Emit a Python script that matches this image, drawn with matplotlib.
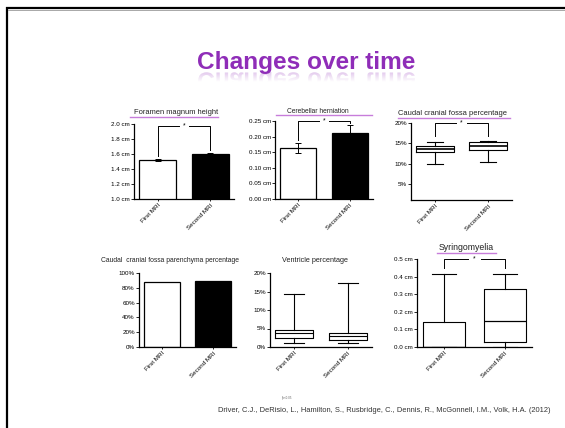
import numpy as np
import matplotlib
matplotlib.use("Agg")
import matplotlib.pyplot as plt
from matplotlib.textpath import TextPath
from matplotlib.font_manager import FontProperties
from matplotlib.patches import PathPatch
from matplotlib.transforms import Affine2D

plt.rcParams['font.family'] = ['Liberation Sans', 'DejaVu Sans']

W, H = 565, 428

groups = ["First MRI", "Second MRI"]

# Foramen magnum height (cm)
fm_mean = [1.52, 1.60]
fm_err = [0.01, 0.01]
fm_ticks = [1.0, 1.2, 1.4, 1.6, 1.8, 2.0]

# Cerebellar herniation (cm)
ch_mean = [0.163, 0.211]
ch_err = [0.017, 0.026]
ch_ticks = [0.00, 0.05, 0.10, 0.15, 0.20, 0.25]

# Caudal cranial fossa percentage (%)
ccf_whislo = [10.0, 10.4]
ccf_q1 = [13.0, 13.4]
ccf_med = [13.6, 14.3]
ccf_q3 = [14.4, 15.25]
ccf_whishi = [15.25, 15.5]
ccf_ticks = [5, 10, 15, 20]

# Caudal cranial fossa parenchyma percentage (%)
par_mean = [88, 89]
par_err = [0.4, 0.4]
par_ticks = [0, 20, 40, 60, 80, 100]

# Ventricle percentage (%)
ven_whislo = [1.0, 1.0]
ven_q1 = [2.3, 1.9]
ven_med = [3.7, 3.0]
ven_q3 = [4.7, 3.9]
ven_whishi = [14.4, 17.4]
ven_ticks = [0, 5, 10, 15, 20]

# Syringomyelia (cm)
syr_whislo = [0.0, 0.0]
syr_q1 = [0.0, 0.027]
syr_med = [0.0, 0.15]
syr_q3 = [0.144, 0.33]
syr_whishi = [0.417, 0.417]
syr_ticks = [0.0, 0.1, 0.2, 0.3, 0.4, 0.5]

PURPLE = '#8f2db8'
LILAC = '#c77ddb'
LW = 0.9
TICK_FS = 4.5

fig = plt.figure(figsize=(W / 100, H / 100), dpi=100)

# full-figure layer in pixel coordinates for slide decorations
bg = fig.add_axes([0, 0, 1, 1], zorder=-1)
bg.axis('off')

bg.plot([7, 7], [7, H], color='black', lw=1.6, solid_capstyle='butt')
bg.plot([6, W], [8, 8], color='black', lw=1.6, solid_capstyle='butt')
bg.plot([8, W], [9.6, 9.6], color='#9a9a9a', lw=0.6)

# slide title with faded reflection
title = "Changes over time"
TITLE_PT = 17.6
TITLE_X, TITLE_BASE = 306.5, 69
fp = FontProperties(family='Liberation Sans', weight='bold')
bg.text(TITLE_X, TITLE_BASE, title, fontproperties=fp, fontsize=TITLE_PT, color=PURPLE,
        ha='center', va='baseline')
tp = TextPath((0, 0), title, size=TITLE_PT * 100 / 72, prop=fp)
ext = tp.get_extents()
tx = TITLE_X - (ext.x0 + ext.x1) / 2
mirror_y = TITLE_BASE + 3.5
refl = Affine2D().translate(tx, mirror_y)
rpatch = PathPatch(refl.transform_path(tp), facecolor='none', edgecolor='none')
bg.add_patch(rpatch)
fade = np.linspace(0, 1, 80)[:, None]
grad = np.zeros((80, 2, 4))
grad[..., :3] = matplotlib.colors.to_rgb(PURPLE)
grad[..., 3] = np.clip(0.26 * (1 - fade / 0.55), 0, 1)
img = bg.imshow(grad, extent=[tx + ext.x0, tx + ext.x1, mirror_y + ext.y1, mirror_y],
                aspect='auto', interpolation='bilinear', zorder=1)
img.set_clip_path(rpatch)
bg.set_xlim(0, W)
bg.set_ylim(H, 0)


def px_axes(x0, y0, x1, y1):
    ax = fig.add_axes([x0 / W, 1 - y1 / H, (x1 - x0) / W, (y1 - y0) / H])
    ax.spines['top'].set_visible(False)
    ax.spines['right'].set_visible(False)
    for s in ('left', 'bottom'):
        ax.spines[s].set_linewidth(LW)
    ax.tick_params(axis='y', length=2, width=0.6, labelsize=TICK_FS, pad=1)
    ax.tick_params(axis='x', length=1.5, width=0.6, labelsize=TICK_FS, pad=1)
    ax.set_xlim(-0.45, 1.45)
    ax.set_xticks([0, 1])
    ax.set_xticklabels(groups, rotation=45, ha='right', rotation_mode='anchor')
    ax.patch.set_alpha(0)
    return ax


def panel_title(x, y, s, size, underline=None, ha='center'):
    bg.text(x, y, s, fontsize=size, ha=ha, va='center', color='#222222')
    if underline:
        bg.plot(underline[:2], [underline[2]] * 2, color=LILAC, lw=1.0)


def bracket(ax, y, ylo_left, ylo_right, gap=0.1):
    kw = dict(color='black', lw=0.7, clip_on=False)
    ax.plot([0, 0, 0.5 - gap], [ylo_left, y, y], **kw)
    ax.plot([0.5 + gap, 1, 1], [y, y, ylo_right], **kw)
    ax.text(0.5, y, '*', ha='center', va='center', fontsize=4.8, clip_on=False)


def bars(ax, mean, err):
    ax.bar([0, 1], mean, width=0.7, color=['white', 'black'], edgecolor='black',
           linewidth=LW, zorder=2)
    ax.errorbar([0, 1], mean, yerr=err, fmt='none', ecolor='black', elinewidth=0.7,
                capsize=2.5, capthick=0.7, zorder=3)


def boxes(ax, lo, q1, med, q3, hi, capw=0.35, medlw=1.0):
    stats = [dict(whislo=lo[i], q1=q1[i], med=med[i], q3=q3[i], whishi=hi[i], fliers=[])
             for i in range(2)]
    ax.bxp(stats, positions=[0, 1], widths=0.7, capwidths=capw, showfliers=False,
           manage_ticks=False,
           boxprops=dict(color='black', linewidth=0.8),
           whiskerprops=dict(color='black', linewidth=0.8),
           capprops=dict(color='black', linewidth=0.8),
           medianprops=dict(color='black', linewidth=medlw))


# Foramen magnum height
ax1 = px_axes(134, 124, 234, 199)
bars(ax1, fm_mean, fm_err)
ax1.set_ylim(1.0, 2.0)
ax1.set_yticks(fm_ticks)
ax1.set_yticklabels([f"{t:.1f} cm" for t in fm_ticks])
bracket(ax1, 1.97, 1.58, 1.66)
panel_title(176, 112, "Foramen magnum height", 5.4, (130, 218, 116.5))

# Cerebellar herniation
ax2 = px_axes(275, 121, 373, 199)
bars(ax2, ch_mean, ch_err)
ax2.set_ylim(0, 0.25)
ax2.set_yticks(ch_ticks)
ax2.set_yticklabels([f"{t:.2f} cm" for t in ch_ticks])
bracket(ax2, 0.25, 0.19, 0.245)
panel_title(318, 111, "Cerebellar herniation", 4.8, (276, 372, 114.5))

# Caudal cranial fossa percentage
ax3 = px_axes(411, 123, 512, 200)
boxes(ax3, ccf_whislo, ccf_q1, ccf_med, ccf_q3, ccf_whishi, capw=0.3, medlw=1.2)
ax3.set_ylim(1.2, 20)
ax3.set_yticks(ccf_ticks)
ax3.set_yticklabels([f"{t}%" for t in ccf_ticks])
bracket(ax3, 20, 16.8, 16.8)
panel_title(452, 113, "Caudal cranial fossa percentage", 5.4, (398, 510, 118))

# Caudal cranial fossa parenchyma percentage
ax4 = px_axes(139, 273, 236, 347)
bars(ax4, par_mean, par_err)
ax4.set_ylim(0, 100)
ax4.set_yticks(par_ticks)
ax4.set_yticklabels([f"{t}%" for t in par_ticks])
panel_title(101, 261, "Caudal  cranial fossa parenchyma percentage", 4.85, ha='left')

# Ventricle percentage
ax5 = px_axes(270, 273, 372, 347)
boxes(ax5, ven_whislo, ven_q1, ven_med, ven_q3, ven_whishi, capw=0.38, medlw=0.8)
ax5.set_ylim(0, 20)
ax5.set_yticks(ven_ticks)
ax5.set_yticklabels([f"{t}%" for t in ven_ticks])
panel_title(315, 261, "Ventricle percentage", 5.2)

# Syringomyelia
ax6 = px_axes(417, 259, 532, 347)
boxes(ax6, syr_whislo, syr_q1, syr_med, syr_q3, syr_whishi, capw=0.4, medlw=0.9)
ax6.set_ylim(0, 0.5)
ax6.set_yticks(syr_ticks)
ax6.set_yticklabels([f"{t:.1f} cm" for t in syr_ticks])
bracket(ax6, 0.5, 0.45, 0.45)
panel_title(466, 247, "Syringomyelia", 6.3, (437, 496, 253))

# footnote and citation
bg.text(287, 398, "*p<0.05", fontsize=2.2, ha='center', va='center', color='#666666')
bg.text(551, 411, "Driver, C.J., DeRisio, L., Hamilton, S., Rusbridge, C., Dennis, R., "
        "McGonnell, I.M., Volk, H.A. (2012)", fontsize=5.45, ha='right', va='center',
        color='#333333')

fig.savefig("out.png", dpi=100)
